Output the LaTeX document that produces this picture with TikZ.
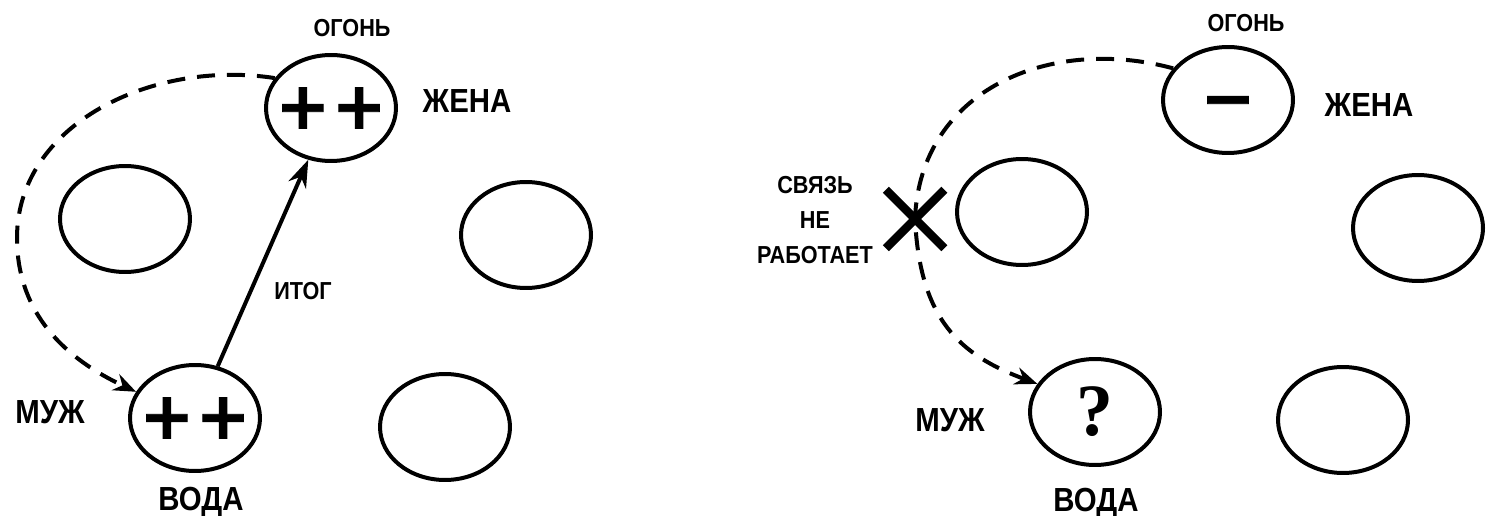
\documentclass[tikz,border=0pt]{standalone}
\usepackage{fontspec}
\setmainfont{Liberation Sans}
\newfontfamily\hand{Liberation Sans}[FakeStretch=0.88]
\newfontfamily\signfont{DejaVu Sans}[BoldFeatures={FakeBold=1.5}]
\newfontfamily\qfont{Liberation Serif}
\usetikzlibrary{shapes.geometric}
\usetikzlibrary{shapes.misc}
\usetikzlibrary{arrows.meta}

\newcommand{\cellsign}[1]{\makebox[0pt]{#1}}

\begin{document}
\begin{tikzpicture}[x=0.02cm,y=-0.02cm,
    cell/.style={ellipse,draw,line width=0.08cm,minimum width=2.6cm,minimum height=2.12cm,inner sep=0pt},
    signtxt/.style={font=\signfont\bfseries\fontsize{37}{37}\selectfont},
    lbl/.style={font=\hand\bfseries\fontsize{14}{20}\selectfont,inner sep=0pt,text depth=0pt},
    biglbl/.style={font=\hand\bfseries\fontsize{19}{22}\selectfont,inner sep=0pt,text depth=0pt},
    link/.style={line width=0.08cm,dash pattern=on 0.36cm off 0.24cm,-{Stealth[length=0.45cm,width=0.35cm]}},
    result/.style={line width=0.08cm,-{Stealth[length=0.55cm,width=0.38cm]}}]

    % Page size
    \useasboundingbox (0,0) rectangle (1486,516);

    % Left picture: the link works
    \node[cell,signtxt] (fireA) at (331,108) {\cellsign{+\kern1pt+}};
    \node[cell] (midLA) at (125,219) {};
    \node[cell] (midRA) at (526,235) {};
    \node[cell,signtxt] (waterA) at (195,418) {\cellsign{+\kern1pt+}};
    \node[cell] (botRA) at (445,427) {};

    \node[lbl] (fireLA) at (352,28) {ОГОНЬ};
    \node[biglbl] (wifeA) at (467,101) {ЖЕНА};
    \node[biglbl] (husbA) at (50,412) {МУЖ};
    \node[biglbl] (waterLA) at (201,499) {ВОДА};
    \node[lbl] (sumA) at (303,291) {ИТОГ};

    % Draw links
    \coordinate (bendA) at (17,238);
    \draw[link] (fireA.152) .. controls (153,59) and (17,124) .. (bendA)
        .. controls (17,314) and (66,359) .. (waterA.156);
    \draw[result] (waterA) -- (fireA);

    % Right picture: the link is broken
    \node[cell,signtxt] (fireB) at (1228,100) {\cellsign{\vphantom{+}−}};
    \node[cell] (midLB) at (1022,212) {};
    \node[cell] (midRB) at (1418,228) {};
    \node[cell,font=\qfont\bfseries\fontsize{42}{42}\selectfont] (waterB) at (1095,412) {\cellsign{?}};
    \node[cell] (botRB) at (1343,420) {};

    \node[lbl] (fireLB) at (1246,23) {ОГОНЬ};
    \node[biglbl] (wifeB) at (1369,105) {ЖЕНА};
    \node[biglbl] (husbB) at (950,420) {МУЖ};
    \node[biglbl] (waterLB) at (1096,500) {ВОДА};
    \node[lbl,align=center] (noteB) at (815,220) {СВЯЗЬ\\НЕ\\РАБОТАЕТ};

    % Draw broken link
    \node[cross out,draw,line width=0.17cm,minimum size=1.0cm,inner sep=0pt] (brk) at (915,219) {};
    \draw[link] (fireB.150) .. controls (1050,35) and (920,90) .. (brk.center)
        .. controls (920,320) and (960,355) .. (waterB.154);
\end{tikzpicture}
\end{document}
